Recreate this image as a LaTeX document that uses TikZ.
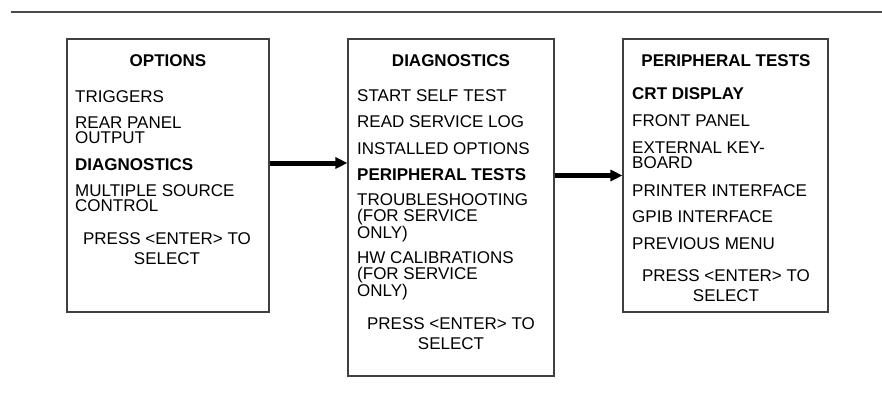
\documentclass[tikz,border=0pt]{standalone}
\usepackage{fontspec}
\setmainfont{Liberation Sans}
\usetikzlibrary{arrows.meta}

\begin{document}
\begin{tikzpicture}[
    x=1pt, y=-1pt,
    menubox/.style={rectangle, draw=black!75, line width=1.1pt, inner sep=0pt},
    item/.style={anchor=base west, inner sep=0pt, align=left, font=\fontsize{17}{15.5}\selectfont},
    hint/.style={anchor=base, inner sep=0pt, align=center, font=\fontsize{17}{20}\selectfont},
    title/.style={anchor=base, inner sep=0pt, font=\fontsize{17}{20}\selectfont\bfseries},
    flow/.style={-{Triangle[length=12pt,width=11pt]}, line width=5pt}
]
    \useasboundingbox (0,0) rectangle (882,397);

    % Linie oben
    \draw[line width=2pt, black!70] (11,12) -- (882,12);

    % Menues (Text: Grundlinie der letzten Zeile)
    \node[menubox, minimum width=202pt, minimum height=273pt] (options) at (168,175.5) {};
    \node[menubox, minimum width=206pt, minimum height=337pt] (diagnostics) at (451,207.5) {};
    \node[menubox, minimum width=205pt, minimum height=273pt] (periph) at (725.5,175.5) {};

    % Optionen
    \node[title] (optTitle) at (168,66) {OPTIONS};
    \node[item] (optTrig) at (75,102) {TRIGGERS};
    \node[item] (optRear) at (75,143.5) {REAR PANEL\\OUTPUT};
    \node[item, font=\fontsize{17}{15.5}\selectfont\bfseries] (optDiag) at (75,170) {DIAGNOSTICS};
    \node[item] (optMulti) at (75,211.5) {MULTIPLE SOURCE\\CONTROL};
    \node[hint] (optHint) at (167,264) {PRESS <ENTER> TO\\SELECT};

    % Diagnose
    \node[title] (diagTitle) at (451,66) {DIAGNOSTICS};
    \node[item] (diagSelf) at (357,101) {START SELF TEST};
    \node[item] (diagLog) at (357,127) {READ SERVICE LOG};
    \node[item] (diagInst) at (357,154) {INSTALLED OPTIONS};
    \node[item, font=\fontsize{17}{15.5}\selectfont\bfseries] (diagPeri) at (357,180) {PERIPHERAL TESTS};
    \node[item] (diagTrouble) at (357,238) {TROUBLESHOOTING\\(FOR SERVICE\\ONLY)};
    \node[item] (diagCal) at (357,296) {HW CALIBRATIONS\\(FOR SERVICE\\ONLY)};
    \node[hint] (diagHint) at (451,349) {PRESS <ENTER> TO\\SELECT};

    % Peripherie
    \node[title] (periTitle) at (726,66) {PERIPHERAL TESTS};
    \node[item, font=\fontsize{17}{15.5}\selectfont\bfseries] (periCrt) at (632,99) {CRT DISPLAY};
    \node[item] (periFront) at (632,126) {FRONT PANEL};
    \node[item] (periKey) at (632,168.5) {EXTERNAL KEY-\\BOARD};
    \node[item] (periPrint) at (632,196) {PRINTER INTERFACE};
    \node[item] (periGpib) at (632,222) {GPIB INTERFACE};
    \node[item] (periPrev) at (632,249) {PREVIOUS MENU};
    \node[hint] (periHint) at (726,301) {PRESS <ENTER> TO\\SELECT};

    % Pfeile
    \draw[flow] ([yshift=12.5pt]options.east) -- ([yshift=12.5pt]options.east -| diagnostics.west);
    \draw[flow] (periph.west -| diagnostics.east) -- (periph.west);
\end{tikzpicture}
\end{document}
